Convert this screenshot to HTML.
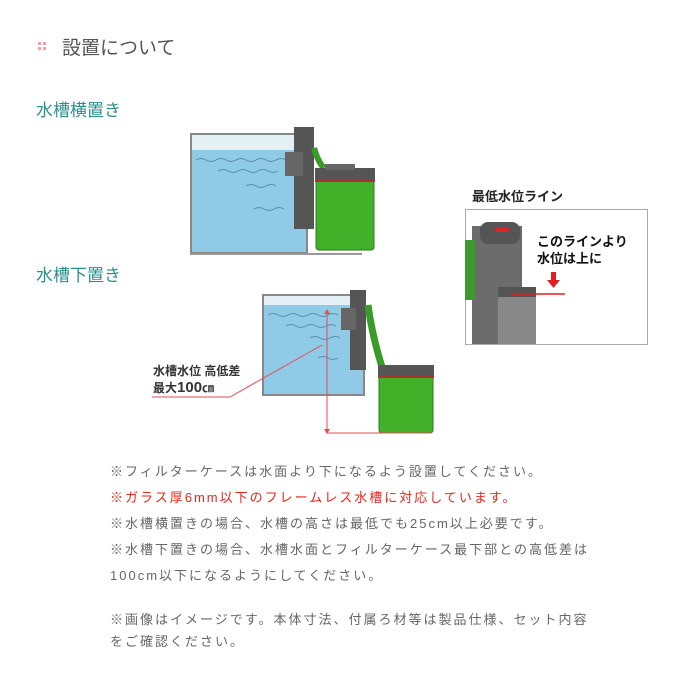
<!DOCTYPE html>
<html><head><meta charset="utf-8"><style>
body{margin:0;width:700px;height:700px;background:#fff;position:relative;overflow:hidden;font-family:"Liberation Sans","Noto Sans CJK JP",sans-serif}
.a{position:absolute;white-space:nowrap}
.t{font-size:13px;letter-spacing:2.0px;color:#666}
.d{position:absolute;width:3px;height:3px;background:#f4a0a0}
</style></head><body>
<div class="d" style="left:38px;top:42px"></div><div class="d" style="left:43px;top:42px"></div>
<div class="d" style="left:38px;top:47px"></div><div class="d" style="left:43px;top:47px"></div>
<div class="a" style="left:62px;top:33px;font-size:19px;color:#555">設置について</div>
<div class="a" style="left:36px;top:96px;font-size:17px;color:#2a8f8c">水槽横置き</div>
<div class="a" style="left:36px;top:261px;font-size:17px;color:#2a8f8c">水槽下置き</div>

<svg class="a" style="left:0;top:0" width="700" height="460">
<rect x="191" y="134" width="116" height="119" fill="#e3f1f7" stroke="#888" stroke-width="2"/>
<rect x="192" y="150" width="114" height="102" fill="#8fcbe6"/>
<g stroke="#5e8ea8" fill="none" stroke-width="1"><path d="M196 160q5-3 10 0t10 0 10 0 10 0 10 0 10 0 10 0 10 0 10 0 10 0"/><path d="M218 171q5-3 10 0t10 0 10 0 10 0 10 0 10 0"/><path d="M246 186q5-3 10 0t10 0 10 0"/><path d="M254 209q5-3 10 0t10 0 10 0"/></g>
<line x1="190" y1="254" x2="362" y2="254" stroke="#999" stroke-width="2"/>
<rect x="294" y="127" width="20" height="102" fill="#555"/>
<rect x="285" y="152" width="18" height="24" fill="#666"/>
<path d="M314 148 q4 14 10 20" stroke="#3a9a2a" stroke-width="6" fill="none"/>
<rect x="316" y="170" width="58" height="80" rx="3" fill="#43b02a" stroke="#2d7a1e"/>
<rect x="315" y="168" width="60" height="12" fill="#555"/><rect x="315" y="180" width="60" height="2" fill="#a33"/>
<rect x="325" y="164" width="30" height="6" fill="#666"/>
<rect x="263" y="295" width="101" height="100" fill="#e3f1f7" stroke="#888" stroke-width="2"/>
<rect x="264" y="305" width="99" height="89" fill="#8fcbe6"/>
<g stroke="#5e8ea8" fill="none"><path d="M268 315q5-3 10 0t10 0 10 0 10 0 10 0 10 0 10 0"/><path d="M286 326q5-3 10 0t10 0 10 0 10 0 10 0"/><path d="M310 338q5-3 10 0t10 0 10 0"/><path d="M318 358q5-3 10 0t10 0"/></g>
<rect x="350" y="290" width="16" height="80" fill="#555"/>
<rect x="341" y="308" width="15" height="22" fill="#666"/>
<path d="M368 305 q4 30 14 62" stroke="#3a9a2a" stroke-width="7" fill="none"/>
<rect x="379" y="368" width="54" height="65" rx="3" fill="#43b02a" stroke="#2d7a1e"/>
<rect x="378" y="365" width="56" height="11" fill="#555"/><rect x="378" y="376" width="56" height="2" fill="#a33"/>
<g stroke="#e84a5a" fill="none" stroke-width="1"><line x1="327" y1="310" x2="327" y2="433"/><line x1="327" y1="433" x2="431" y2="433"/><path d="M322 345 L230 397 L152 397"/></g>
<path d="M324 314l3-5 3 5zM324 429l3 5 3-5z" fill="#e84a5a"/>
<text x="153" y="375" font-size="12" font-weight="bold" fill="#333">水槽水位 高低差</text>
<text x="153" y="392" font-size="12" font-weight="bold" fill="#333">最大<tspan font-size="15">100</tspan>㎝</text>
<text x="472" y="201" font-size="13" font-weight="bold" fill="#222">最低水位ライン</text>
<rect x="465.5" y="209.5" width="182" height="135" fill="#fff" stroke="#aaa"/>
<rect x="472" y="226" width="50" height="118" fill="#6c6c6c"/>
<rect x="480" y="222" width="40" height="22" rx="8" fill="#555"/>
<rect x="495" y="227" width="14" height="5" fill="#d22"/>
<rect x="498" y="289" width="38" height="55" fill="#888"/>
<rect x="498" y="287" width="38" height="10" fill="#555"/>
<rect x="465" y="240" width="10" height="60" fill="#3a9a2a"/>
<text x="537" y="246" font-size="13" font-weight="bold" fill="#111">このラインより</text>
<text x="537" y="263" font-size="13" font-weight="bold" fill="#111">水位は上に</text>
<path d="M551 272h5v8h4l-6.5 8-6.5-8h4z" fill="#e02020"/>
<line x1="511" y1="294" x2="565" y2="294" stroke="#e02020" stroke-width="1.5"/>
</svg>

<div class="a t" style="left:110px;top:461px">※フィルターケースは水面より下になるよう設置してください。</div>
<div class="a t" style="left:110px;top:487px;color:#e8261e">※ガラス厚6mm以下のフレームレス水槽に対応しています。</div>
<div class="a t" style="left:110px;top:513px">※水槽横置きの場合、水槽の高さは最低でも25cm以上必要です。</div>
<div class="a t" style="left:110px;top:539px">※水槽下置きの場合、水槽水面とフィルターケース最下部との高低差は</div>
<div class="a t" style="left:110px;top:565px">100cm以下になるようにしてください。</div>
<div class="a t" style="left:110px;top:609px">※画像はイメージです。本体寸法、付属ろ材等は製品仕様、セット内容</div>
<div class="a t" style="left:110px;top:631px">をご確認ください。</div>
</body></html>
